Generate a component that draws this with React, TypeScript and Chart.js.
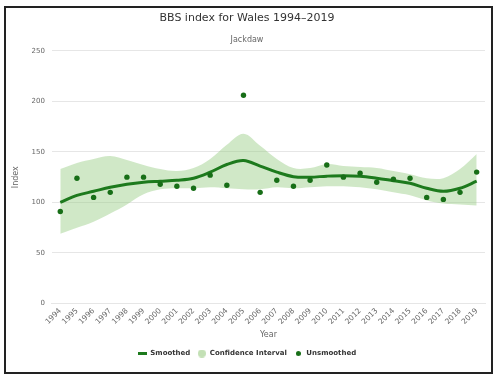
import React, { useEffect, useRef } from "react";
import { Chart, registerables } from "chart.js";

Chart.register(...registerables);

const years = [
  "1994", "1995", "1996", "1997", "1998", "1999", "2000", "2001", "2002",
  "2003", "2004", "2005", "2006", "2007", "2008", "2009", "2010", "2011",
  "2012", "2013", "2014", "2015", "2016", "2017", "2018", "2019",
];

const smoothed = [
  100, 107, 111, 115, 118, 120, 121, 122, 124, 130, 137.5, 141.5, 136,
  130, 125.5, 125, 126, 126.5, 126, 124, 121.5, 119, 114, 111, 114, 121,
];

const unsmoothed = [
  91, 124, 105, 110, 125, 125, 118, 116, 114, 127, 117, 206, 110,
  122, 116, 122, 137, 125, 129, 120, 123, 124, 105, 103, 110, 130,
];

const ciUpper = [
  133, 139, 143, 146, 142, 137, 133, 131, 134, 143, 157, 168, 156,
  143, 134, 134, 138, 136, 135, 134, 131, 128, 124, 124, 133, 148,
];

const ciLower = [
  69, 75, 81, 89, 98, 108, 113, 114, 114, 115, 114, 113, 113,
  115, 114, 115, 116, 116, 115, 113, 110, 107, 102, 99, 98, 97,
];

const yTicks = [0, 50, 100, 150, 200, 250];

const TITLE = "BBS index for Wales 1994–2019";
const SUBTITLE = "Jackdaw";
const X_TITLE = "Year";
const Y_TITLE = "Index";
const LEGEND_NAMES = ["Smoothed", "Confidence Interval", "Unsmoothed"];

const FONT = "'DejaVu Sans', sans-serif";
const LINE_COLOR = "#1d7a1d";
const POINT_COLOR = "#176e17";
const BAND_COLOR = "rgba(150, 205, 130, 0.45)";
const BAND_LEGEND = "#c3e0b5";

function makeSymbol(kind: string): HTMLCanvasElement {
  const c = document.createElement("canvas");
  if (kind === "line") {
    c.width = 9;
    c.height = 3;
    const g = c.getContext("2d")!;
    g.fillStyle = LINE_COLOR;
    g.fillRect(0, 0, 9, 3);
  } else {
    const d = kind === "band" ? 8 : 5;
    c.width = d;
    c.height = d;
    const g = c.getContext("2d")!;
    g.fillStyle = kind === "band" ? BAND_LEGEND : POINT_COLOR;
    g.beginPath();
    g.arc(d / 2, d / 2, d / 2, 0, Math.PI * 2);
    g.fill();
  }
  return c;
}

const framePlugin = {
  id: "frame",
  beforeDraw(chart: any) {
    const ctx = chart.ctx;
    ctx.save();
    ctx.fillStyle = "#ffffff";
    ctx.fillRect(0, 0, chart.width, chart.height);
    ctx.restore();
  },
  afterDraw(chart: any) {
    const ctx = chart.ctx;
    ctx.save();
    ctx.strokeStyle = "#222222";
    ctx.lineWidth = 2;
    ctx.strokeRect(5, 7, chart.width - 12, chart.height - 14);
    ctx.restore();
  },
};

export default function App() {
  const ref = useRef<HTMLCanvasElement | null>(null);

  useEffect(() => {
    if (!ref.current) return;
    const symbols = [makeSymbol("line"), makeSymbol("band"), makeSymbol("dot")];
    const chart = new Chart(ref.current, {
      type: "line",
      data: {
        labels: years,
        datasets: [
          {
            label: LEGEND_NAMES[0],
            data: smoothed,
            borderColor: LINE_COLOR,
            borderWidth: 3,
            pointRadius: 0,
            tension: 0.35,
            fill: false,
            order: 1,
          },
          {
            label: LEGEND_NAMES[1],
            data: ciUpper,
            borderWidth: 0,
            borderColor: "rgba(0,0,0,0)",
            backgroundColor: BAND_COLOR,
            pointRadius: 0,
            tension: 0.35,
            fill: "+1",
            order: 2,
          },
          {
            label: "lower",
            data: ciLower,
            borderWidth: 0,
            borderColor: "rgba(0,0,0,0)",
            pointRadius: 0,
            tension: 0.35,
            fill: false,
            order: 3,
          },
          {
            label: LEGEND_NAMES[2],
            data: unsmoothed,
            showLine: false,
            pointRadius: 2.7,
            pointBorderWidth: 0,
            pointBackgroundColor: POINT_COLOR,
            borderColor: POINT_COLOR,
            order: 0,
          },
        ],
      },
      options: {
        animation: false,
        responsive: false,
        layout: { padding: { left: 9, right: 14, top: 10, bottom: 13 } },
        plugins: {
          tooltip: { enabled: false },
          title: {
            display: true,
            text: TITLE,
            color: "#333333",
            font: { family: FONT, size: 11, weight: "normal" },
            padding: { top: 2, bottom: 8 },
          },
          subtitle: {
            display: true,
            text: SUBTITLE,
            color: "#666666",
            font: { family: FONT, size: 8 },
            padding: { top: 2, bottom: 6 },
          },
          legend: {
            position: "bottom",
            labels: {
              usePointStyle: true,
              pointStyleWidth: 9,
              boxHeight: 8,
              padding: 7,
              color: "#333333",
              font: { family: FONT, size: 7, weight: "bold" },
              generateLabels: () =>
                LEGEND_NAMES.map((name, i) => ({
                  text: name,
                  pointStyle: symbols[i] as any,
                  fillStyle: "transparent",
                  strokeStyle: "transparent",
                  lineWidth: 0,
                  hidden: false,
                  datasetIndex: [0, 1, 3][i],
                  fontColor: "#333333",
                })),
            },
          },
        },
        scales: {
          x: {
            type: "category",
            offset: true,
            grid: { display: false, drawTicks: false },
            border: { display: true, color: "#e6e6e6" },
            ticks: {
              color: "#666666",
              font: { family: FONT, size: 7.5 },
              minRotation: 45,
              maxRotation: 45,
              autoSkip: false,
              padding: 3,
            },
            title: {
              display: true,
              text: X_TITLE,
              color: "#666666",
              font: { family: FONT, size: 8 },
              padding: { top: 1, bottom: 3 },
            },
          },
          y: {
            min: yTicks[0],
            max: yTicks[yTicks.length - 1],
            afterBuildTicks: (scale: any) => {
              scale.ticks = yTicks.map((v) => ({ value: v }));
            },
            grid: { color: "#e6e6e6", drawTicks: false },
            border: { display: false },
            ticks: {
              color: "#666666",
              font: { family: FONT, size: 7 },
              padding: 7,
            },
            title: {
              display: true,
              text: Y_TITLE,
              color: "#666666",
              font: { family: FONT, size: 8 },
              padding: { top: 2, bottom: 4 },
            },
          },
        },
      },
      plugins: [framePlugin],
    });
    return () => chart.destroy();
  }, []);

  return (
    <div style={{ position: "absolute", left: 0, top: 0 }}>
      <canvas ref={ref} width={499} height={380} style={{ display: "block", width: 499, height: 380 }} />
    </div>
  );
}
